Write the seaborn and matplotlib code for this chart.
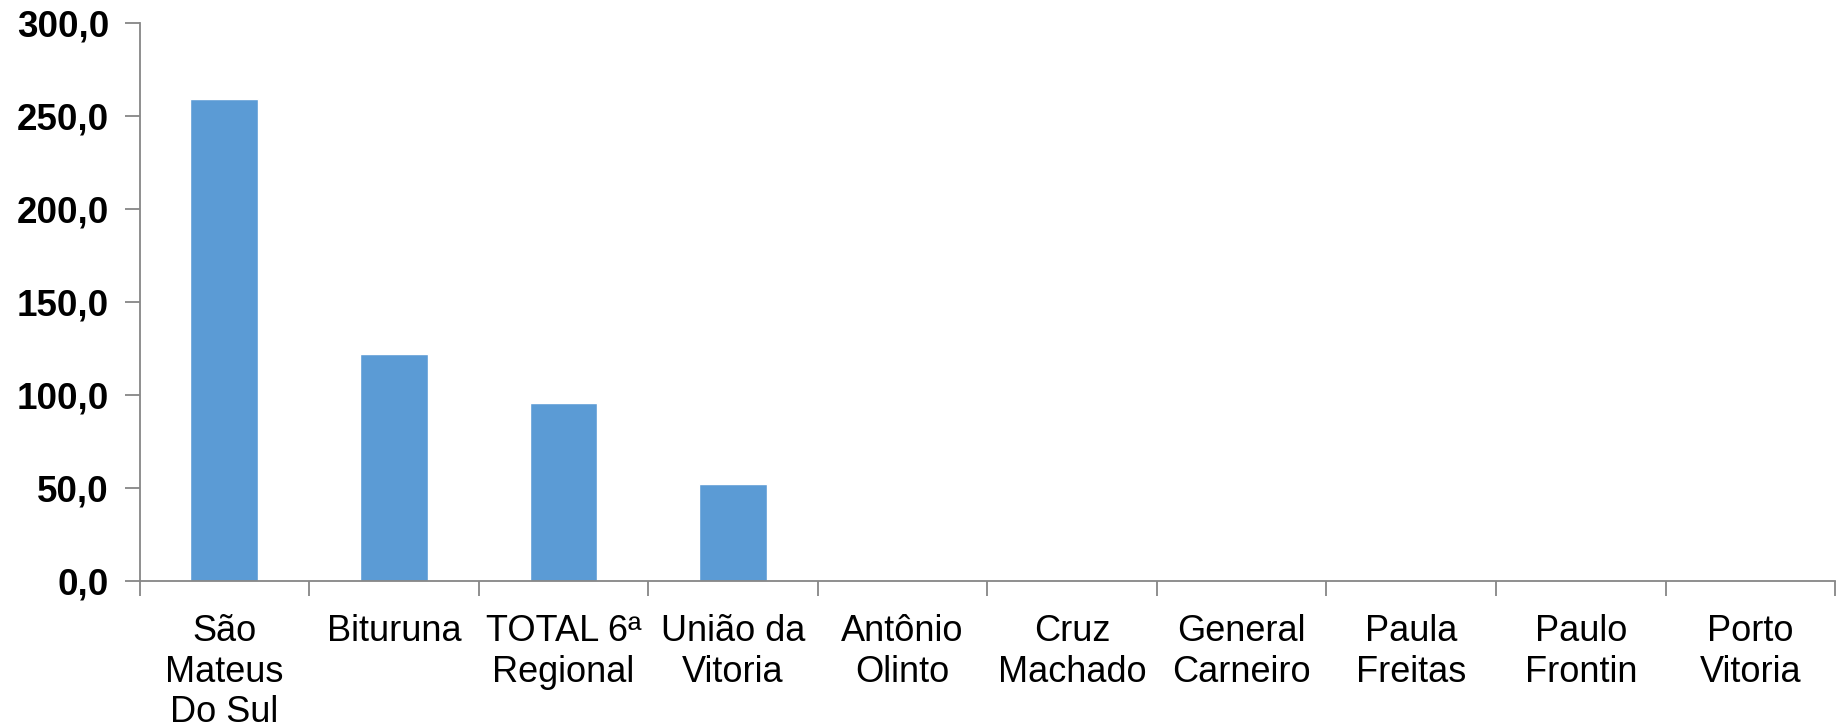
import matplotlib
matplotlib.use("Agg")
import matplotlib.pyplot as plt
import matplotlib.ticker as mticker
import numpy as np
import pandas as pd
import seaborn as sns

# data
municipios = ["São\nMateus\nDo Sul", "Bituruna", "TOTAL 6ª\nRegional", "União da\nVitoria",
              "Antônio\nOlinto", "Cruz\nMachado", "General\nCarneiro", "Paula\nFreitas",
              "Paulo\nFrontin", "Porto\nVitoria"]
valores = [259.4, 121.9, 95.6, 52.0, 0.0, 0.0, 0.0, 0.0, 0.0, 0.0]
y_ticks = [0, 50, 100, 150, 200, 250, 300]

sns.set_theme(style="white")
plt.rcParams['font.family'] = ['Liberation Sans', 'DejaVu Sans']
plt.rcParams['text.color'] = 'black'

df = pd.DataFrame({'municipio': municipios, 'valor': valores})

fig = plt.figure(figsize=(18.36, 7.28), dpi=100)
ax = fig.add_axes([0.076, 0.202, 0.9235, 0.766])

sns.barplot(data=df, x='municipio', y='valor', color='#5B9BD5', saturation=1,
            width=0.4, ax=ax)

ax.set_ylim(0, 300)
ax.set_xlim(-0.5, len(municipios) - 0.5)
ax.set_yticks(y_ticks)
ax.yaxis.set_major_formatter(mticker.FuncFormatter(lambda v, p: f"{v:.1f}".replace('.', ',')))
ax.set_xlabel("")
ax.set_ylabel("")

axis_gray = '#868686'
for s in ['top', 'right']:
    ax.spines[s].set_visible(False)
for s in ['left', 'bottom']:
    ax.spines[s].set_color(axis_gray)
    ax.spines[s].set_linewidth(1.3)

# tick marks between categories, labels centred without marks
ax.set_xticks(np.arange(-0.5, len(municipios), 1), minor=True)
ax.tick_params(axis='x', which='minor', length=11, width=1.3, color=axis_gray, bottom=True)
ax.tick_params(axis='x', which='major', length=0, pad=24, labelsize=26, labelcolor='black')
ax.tick_params(axis='y', which='major', length=11, width=1.3, color=axis_gray, left=True,
               pad=11, labelsize=26.5, labelcolor='black')
for lbl in ax.get_yticklabels():
    lbl.set_fontweight('bold')
for lbl in ax.get_xticklabels():
    lbl.set_linespacing(1.2)

fig.savefig("out.png", dpi=100, facecolor='white')
